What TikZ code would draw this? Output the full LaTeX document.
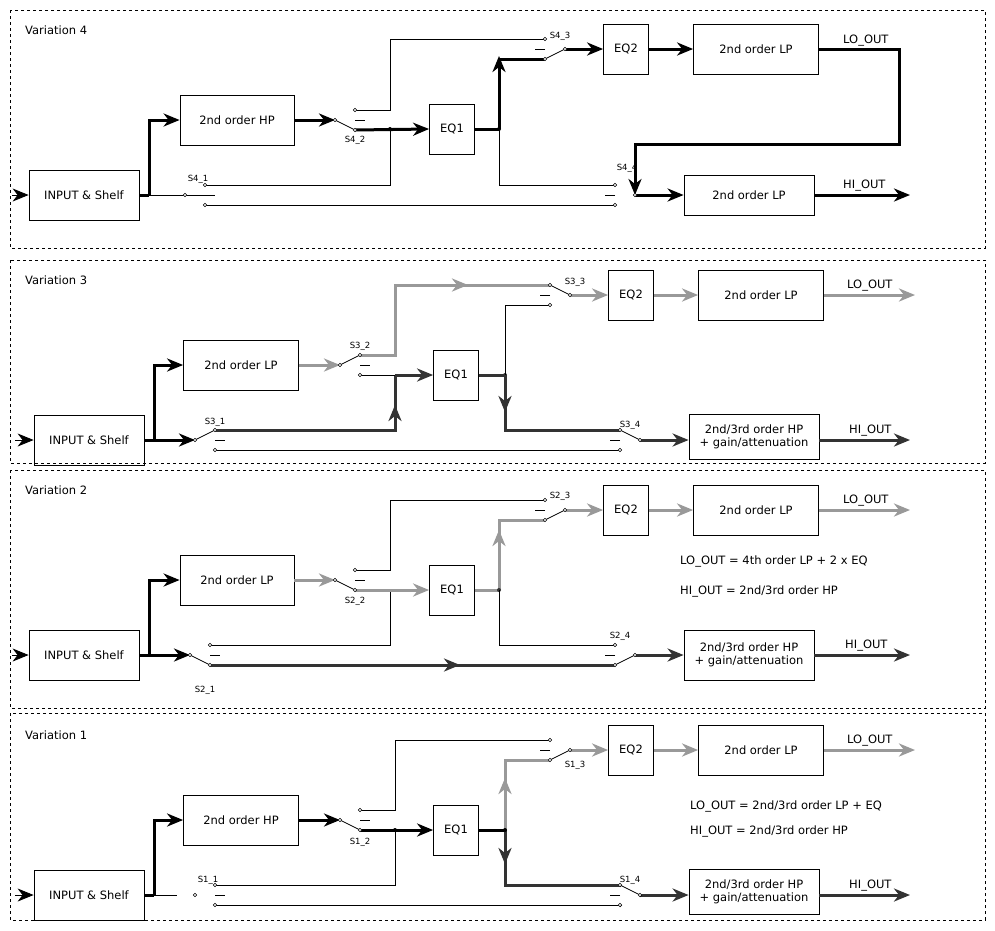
\documentclass[tikz,border=0pt]{standalone}
\usepackage{fontspec}
\setmainfont{DejaVu Sans}
\usetikzlibrary{arrows.meta}
\definecolor{gr}{HTML}{999999}
\definecolor{dk}{HTML}{333333}
\tikzset{
 blk/.style={line width=3,black},
 grl/.style={line width=3,gr},
 dkl/.style={line width=3,dk},
 thn/.style={line width=0.8},
 arr/.style={-{Stealth[length=16,width=13,inset=5]}},
 box/.style={draw,line width=0.8,align=center,font=\fontsize{11.5}{13}\selectfont,inner sep=0},
 lbl/.style={font=\fontsize{8.5}{10}\selectfont,inner sep=0},
 txt/.style={font=\fontsize{11.5}{13}\selectfont,inner sep=0,anchor=west},
 panel/.style={dashed,line width=0.7}
}
\newcommand\mksw[5]{%
 \coordinate (#1c) at (#2,#3);
 \coordinate (#1u) at ({#2+20*#4},{#3-10});
 \coordinate (#1l) at ({#2+20*#4},{#3+10});
 \draw[thn] ({#2+20*#4},#3) -- ({#2+30*#4},#3);
 \ifx n#5\else\draw[thn] (#1c) -- (#1#5);\fi}
\newcommand\terms[1]{\foreach \p in {c,u,l}{\draw[line width=0.6,fill=white] (#1\p) circle (1.8);}}
\begin{document}
\begin{tikzpicture}[x=1pt,y=-1pt]
\useasboundingbox (0,0) rectangle (995,930);
\fill[white] (0,0) rectangle (995,930);
% panels
\draw[panel] (10,10) rectangle (985,248);
\draw[panel] (10,260) rectangle (985,463);
\draw[panel] (10,470) rectangle (985,708);
\draw[panel] (10,713) rectangle (985,920);
\node[txt] (t4) at (25,30) {Variation 4};
\node[txt] (t3) at (25,280) {Variation 3};
\node[txt] (t2) at (25,490) {Variation 2};
\node[txt] (t1) at (25,735) {Variation 1};

%%%%%%%%%%%% Variation 4
\node[box,minimum width=110,minimum height=50] (in4) at (84,195) {INPUT \& Shelf};
\node[box,minimum width=114,minimum height=50] (hp4) at (237,120) {2nd order HP};
\node[box,minimum width=45,minimum height=50] (eq4) at (452,129) {EQ1};
\node[box,minimum width=45,minimum height=50] (eqb4) at (626,49) {EQ2};
\node[box,minimum width=125,minimum height=50] (lp4) at (756,49) {2nd order LP};
\node[box,minimum width=130,minimum height=40] (lpb4) at (749,195) {2nd order LP};
\coordinate (i4) at (12,195);
\coordinate (j4) at (149,195);
\coordinate (k4) at (499,129);
\coordinate (m4) at (390,129);
\coordinate (o4) at (910,195);
\mksw{a1}{185}{195}{1}{n}
\mksw{a2}{335}{120}{1}{l}
\mksw{a3}{565}{49}{-1}{l}
\mksw{a4}{635}{195}{-1}{n}
\draw[thn,arr] (i4) -- (in4.west);
\draw[blk] (in4.east) -- (j4);
\draw[blk,arr] (j4) |- (hp4.west);
\draw[thn] (j4) -- (215,195);
\draw[blk,arr] (hp4.east) -- (a2c);
\draw[blk,arr] (a2l) -- (eq4.west);
\draw[thn] (a2u) -- (390,110) |- (a3u);
\draw[thn] (m4) |- (a1u);
\fill (m4) circle (2);
\draw[thn] (a1l) -- (a4l);
\draw[blk] (eq4.east) -- (k4);
\draw[blk,arr] (k4) -- (499,56);
\draw[blk] (499,59) -- (a3l);
\fill (k4) circle (2);
\draw[thn] (k4) |- (a4u);
\draw[blk,arr] (a3c) -- (eqb4.west);
\draw[blk,arr] (eqb4) -- (lp4);
\draw[blk,line join=miter] (lp4.east) -- (899,49) -- (899,144) -- (635,144) -- (635,175);
\draw[blk,arr] (635,170) -- (a4c);
\draw[blk,arr] (a4c) -- (lpb4.west);
\draw[blk,arr] (lpb4.east) -- (o4);
\node[txt] (lo4) at (843,41) {LO\_OUT};
\node[txt] (hi4) at (843,186) {HI\_OUT};
\node[lbl] (s41) at (198,179) {S4\_1};
\node[lbl] (s42) at (355,140) {S4\_2};
\node[lbl] (s43) at (560,36) {S4\_3};
\node[lbl] (s44) at (627,168) {S4\_4};
\terms{a1}\terms{a2}\terms{a3}\terms{a4}

%%%%%%%%%%%% Variation 3
\node[box,minimum width=110,minimum height=50] (in3) at (89,440) {INPUT \& Shelf};
\node[box,minimum width=115,minimum height=50] (lp3) at (241,365) {2nd order LP};
\node[box,minimum width=45,minimum height=50] (eq3) at (456,375) {EQ1};
\node[box,minimum width=45,minimum height=50] (eqb3) at (631,295) {EQ2};
\node[box,minimum width=125,minimum height=50] (lpb3) at (761,295) {2nd order LP};
\node[box,minimum width=130,minimum height=45] (hp3) at (754,437) {2nd/3rd order HP\\+ gain/attenuation};
\coordinate (i3) at (15,440);
\coordinate (j3) at (154,440);
\coordinate (k3) at (505,375);
\coordinate (o3) at (910,440);
\coordinate (p3) at (915,295);
\mksw{b1}{195}{440}{1}{u}
\mksw{b2}{340}{365}{1}{u}
\mksw{b3}{570}{295}{-1}{u}
\mksw{b4}{640}{440}{-1}{u}
\draw[thn,arr] (i3) -- (in3.west);
\draw[blk] (in3.east) -- (j3);
\draw[blk,arr] (j3) |- (lp3.west);
\draw[blk,arr] (j3) -- (b1c);
\draw[dkl] (b1u) -| (395,375);
\draw[dkl,arr] (395,430) -- (395,405);
\draw[thn] (b2l) -- (395,375);
\draw[dkl,arr] (395,375) -- (eq3.west);
\draw[grl,arr] (lp3.east) -- (b2c);
\draw[grl] (b2u) -- (395,355) |- (b3u);
\draw[grl,arr] (395,285) -- (468,285);
\draw[dkl] (eq3.east) -- (k3);
\draw[dkl] (k3) |- (b4u);
\draw[dkl,arr] (k3) -- (505,412);
\fill[dk] (k3) circle (2);
\draw[thn] (k3) |- (b3l);
\draw[grl,arr] (b3c) -- (eqb3.west);
\draw[grl,arr] (eqb3) -- (lpb3);
\draw[grl,arr] (lpb3.east) -- (p3);
\draw[dkl,arr] (b4c) -- (hp3.west |- b4c);
\draw[dkl,arr] (hp3.east |- b4c) -- (o3);
\draw[thn] (b1l) -- (b4l);
\node[txt] (lo3) at (847,286) {LO\_OUT};
\node[txt] (hi3) at (849,431) {HI\_OUT};
\node[lbl] (s31) at (215,422) {S3\_1};
\node[lbl] (s32) at (360,346) {S3\_2};
\node[lbl] (s33) at (575,282) {S3\_3};
\node[lbl] (s34) at (630,425) {S3\_4};
\terms{b1}\terms{b2}\terms{b3}\terms{b4}

%%%%%%%%%%%% Variation 2
\node[box,minimum width=110,minimum height=50] (in2) at (84,655) {INPUT \& Shelf};
\node[box,minimum width=114,minimum height=50] (lp2) at (237,580) {2nd order LP};
\node[box,minimum width=45,minimum height=50] (eq2) at (452,590) {EQ1};
\node[box,minimum width=45,minimum height=50] (eqb2) at (626,510) {EQ2};
\node[box,minimum width=125,minimum height=50] (lpb2) at (756,510) {2nd order LP};
\node[box,minimum width=130,minimum height=50] (hp2) at (749,655) {2nd/3rd order HP\\+ gain/attenuation};
\coordinate (i2) at (12,655);
\coordinate (j2) at (149,655);
\coordinate (k2) at (499,590);
\coordinate (o2) at (910,655);
\coordinate (p2) at (910,510);
\mksw{c1}{190}{655}{1}{l}
\mksw{c2}{335}{580}{1}{l}
\mksw{c3}{565}{510}{-1}{l}
\mksw{c4}{635}{655}{-1}{l}
\draw[thn,arr] (i2) -- (in2.west);
\draw[blk] (in2.east) -- (j2);
\draw[blk,arr] (j2) |- (lp2.west);
\draw[blk,arr] (j2) -- (c1c);
\draw[dkl] (c1l) -- (c4l);
\draw[dkl,arr] (c1l) -- (460,665);
\draw[thn] (c1u) -| (390,590);
\draw[grl,arr] (lp2.east) -- (c2c);
\draw[grl,arr] (c2l) -- (eq2.west);
\draw[thn] (c2u) -- (390,570) |- (c3u);
\draw[grl] (eq2.east) -- (k2);
\draw[grl] (k2) |- (c3l);
\draw[grl,arr] (k2) -- (499,530);
\fill[dk] (k2) circle (2);
\draw[thn] (k2) |- (c4u);
\draw[grl,arr] (c3c) -- (eqb2.west);
\draw[grl,arr] (eqb2) -- (lpb2);
\draw[grl,arr] (lpb2.east) -- (p2);
\draw[dkl,arr] (c4c) -- (hp2.west);
\draw[dkl,arr] (hp2.east) -- (o2);
\node[txt] (lo2) at (843,501) {LO\_OUT};
\node[txt] (hi2) at (845,646) {HI\_OUT};
\node[txt] (f2a) at (680,561) {LO\_OUT = 4th order LP + 2 x EQ};
\node[txt] (f2b) at (680,591) {HI\_OUT = 2nd/3rd order HP};
\node[lbl] (s21) at (205,690) {S2\_1};
\node[lbl] (s22) at (355,601) {S2\_2};
\node[lbl] (s23) at (560,496) {S2\_3};
\node[lbl] (s24) at (620,636) {S2\_4};
\terms{c1}\terms{c2}\terms{c3}\terms{c4}

%%%%%%%%%%%% Variation 1
\node[box,minimum width=110,minimum height=50] (in1) at (89,895) {INPUT \& Shelf};
\node[box,minimum width=115,minimum height=50] (hp1) at (241,820) {2nd order HP};
\node[box,minimum width=45,minimum height=50] (eq1) at (456,830) {EQ1};
\node[box,minimum width=45,minimum height=50] (eqb1) at (631,750) {EQ2};
\node[box,minimum width=125,minimum height=50] (lpb1) at (761,750) {2nd order LP};
\node[box,minimum width=130,minimum height=45] (hpb1) at (754,892) {2nd/3rd order HP\\+ gain/attenuation};
\coordinate (i1) at (15,895);
\coordinate (j1) at (154,895);
\coordinate (k1) at (505,830);
\coordinate (m1) at (395,830);
\coordinate (o1) at (910,895);
\coordinate (p1) at (915,750);
\mksw{d1}{195}{895}{1}{n}
\mksw{d2}{340}{820}{1}{l}
\mksw{d3}{570}{750}{-1}{l}
\mksw{d4}{640}{895}{-1}{u}
\draw[thn,arr] (i1) -- (in1.west);
\draw[blk] (in1.east) -- (j1);
\draw[blk,arr] (j1) |- (hp1.west);
\draw[thn] (j1) -- (177,895);
\draw[thn] (d1u) -| (m1);
\draw[blk,arr] (hp1.east) -- (d2c);
\draw[blk,arr] (d2l) -- (eq1.west);
\fill (m1) circle (2);
\draw[thn] (d2u) -- (395,810) |- (d3u);
\draw[blk] (eq1.east) -- (k1);
\draw[grl] (k1) |- (d3l);
\draw[grl,arr] (k1) -- (505,778);
\draw[dkl] (k1) |- (d4u);
\draw[dkl,arr] (k1) -- (505,864);
\fill (k1) circle (2);
\draw[thn] (d1l) -- (d4l);
\draw[grl,arr] (d3c) -- (eqb1.west);
\draw[grl,arr] (eqb1) -- (lpb1);
\draw[grl,arr] (lpb1.east) -- (p1);
\draw[dkl,arr] (d4c) -- (hpb1.west |- d4c);
\draw[dkl,arr] (hpb1.east |- d4c) -- (o1);
\node[txt] (lo1) at (847,741) {LO\_OUT};
\node[txt] (hi1) at (849,886) {HI\_OUT};
\node[txt] (f1a) at (690,806) {LO\_OUT = 2nd/3rd order LP + EQ};
\node[txt] (f1b) at (690,831) {HI\_OUT = 2nd/3rd order HP};
\node[lbl] (s11) at (208,880) {S1\_1};
\node[lbl] (s12) at (360,842) {S1\_2};
\node[lbl] (s13) at (575,765) {S1\_3};
\node[lbl] (s14) at (630,880) {S1\_4};
\terms{d1}\terms{d2}\terms{d3}\terms{d4}
\end{tikzpicture}
\end{document}
